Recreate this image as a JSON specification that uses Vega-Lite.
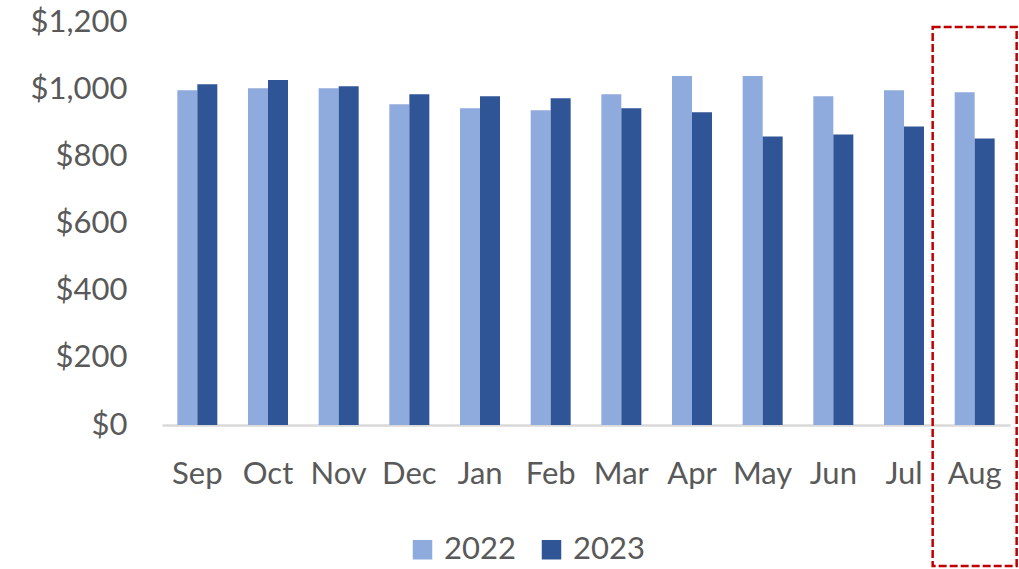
{
  "$schema": "https://vega.github.io/schema/vega-lite/v6.json",
  "width": 848,
  "height": 403,
  "autosize": {"type": "none"},
  "padding": {"left": 162, "top": 22, "right": 9, "bottom": 144},
  "background": "white",
  "config": {
    "view": {"stroke": null},
    "font": "Lato"
  },
  "datasets": {
    "sales": [
      {"month": "Sep", "year": "2022", "value": 997},
      {"month": "Sep", "year": "2023", "value": 1015},
      {"month": "Oct", "year": "2022", "value": 1003},
      {"month": "Oct", "year": "2023", "value": 1027},
      {"month": "Nov", "year": "2022", "value": 1003},
      {"month": "Nov", "year": "2023", "value": 1009},
      {"month": "Dec", "year": "2022", "value": 955},
      {"month": "Dec", "year": "2023", "value": 985},
      {"month": "Jan", "year": "2022", "value": 943},
      {"month": "Jan", "year": "2023", "value": 979},
      {"month": "Feb", "year": "2022", "value": 937},
      {"month": "Feb", "year": "2023", "value": 973},
      {"month": "Mar", "year": "2022", "value": 985},
      {"month": "Mar", "year": "2023", "value": 943},
      {"month": "Apr", "year": "2022", "value": 1039},
      {"month": "Apr", "year": "2023", "value": 931},
      {"month": "May", "year": "2022", "value": 1039},
      {"month": "May", "year": "2023", "value": 859},
      {"month": "Jun", "year": "2022", "value": 979},
      {"month": "Jun", "year": "2023", "value": 865},
      {"month": "Jul", "year": "2022", "value": 997},
      {"month": "Jul", "year": "2023", "value": 889},
      {"month": "Aug", "year": "2022", "value": 991},
      {"month": "Aug", "year": "2023", "value": 853}
    ],
    "highlight": [
      {"month": "Aug", "top": 1185, "bottom": -420}
    ]
  },
  "layer": [
    {
      "data": {"name": "sales"},
      "mark": {"type": "bar"},
      "encoding": {
        "x": {
          "field": "month",
          "type": "nominal",
          "sort": ["Sep","Oct","Nov","Dec","Jan","Feb","Mar","Apr","May","Jun","Jul","Aug"],
          "scale": {"paddingInner": 0.434, "paddingOuter": 0.217},
          "axis": {
            "title": null,
            "labelAngle": 0,
            "labelFontSize": 31,
            "labelColor": "#595959",
            "labelPadding": 34,
            "ticks": false,
            "domainColor": "#D9D9D9",
            "domainWidth": 2.5
          }
        },
        "xOffset": {"field": "year", "type": "nominal", "scale": {"paddingInner": 0, "paddingOuter": 0}},
        "y": {
          "field": "value",
          "type": "quantitative",
          "scale": {"domain": [0, 1200], "nice": false, "zero": true},
          "axis": {
            "title": null,
            "values": [0, 200, 400, 600, 800, 1000, 1200],
            "format": "$,.0f",
            "labelFontSize": 31,
            "labelColor": "#595959",
            "labelPadding": 35,
            "ticks": false,
            "domain": false,
            "grid": false
          }
        },
        "color": {
          "field": "year",
          "type": "nominal",
          "scale": {"domain": ["2022", "2023"], "range": ["#8FAADC", "#2F5597"]},
          "legend": {
            "title": null,
            "orient": "none",
            "direction": "horizontal",
            "legendX": 245,
            "legendY": 512,
            "symbolType": "square",
            "symbolSize": 380,
            "symbolStrokeWidth": 0,
            "labelFontSize": 31,
            "labelColor": "#595959",
            "labelOffset": 6,
            "columnPadding": 20,
            "padding": 0
          }
        }
      }
    },
    {
      "data": {"name": "highlight"},
      "mark": {
        "type": "rect",
        "fill": null,
        "fillOpacity": 0,
        "stroke": "#C00000",
        "strokeWidth": 2.5,
        "strokeDash": [8, 3],
        "width": {"band": 2.1},
        "clip": false
      },
      "encoding": {
        "x": {
          "field": "month",
          "type": "nominal",
          "sort": ["Sep","Oct","Nov","Dec","Jan","Feb","Mar","Apr","May","Jun","Jul","Aug"]
        },
        "y": {"field": "top", "type": "quantitative"},
        "y2": {"field": "bottom"}
      }
    }
  ]
}
